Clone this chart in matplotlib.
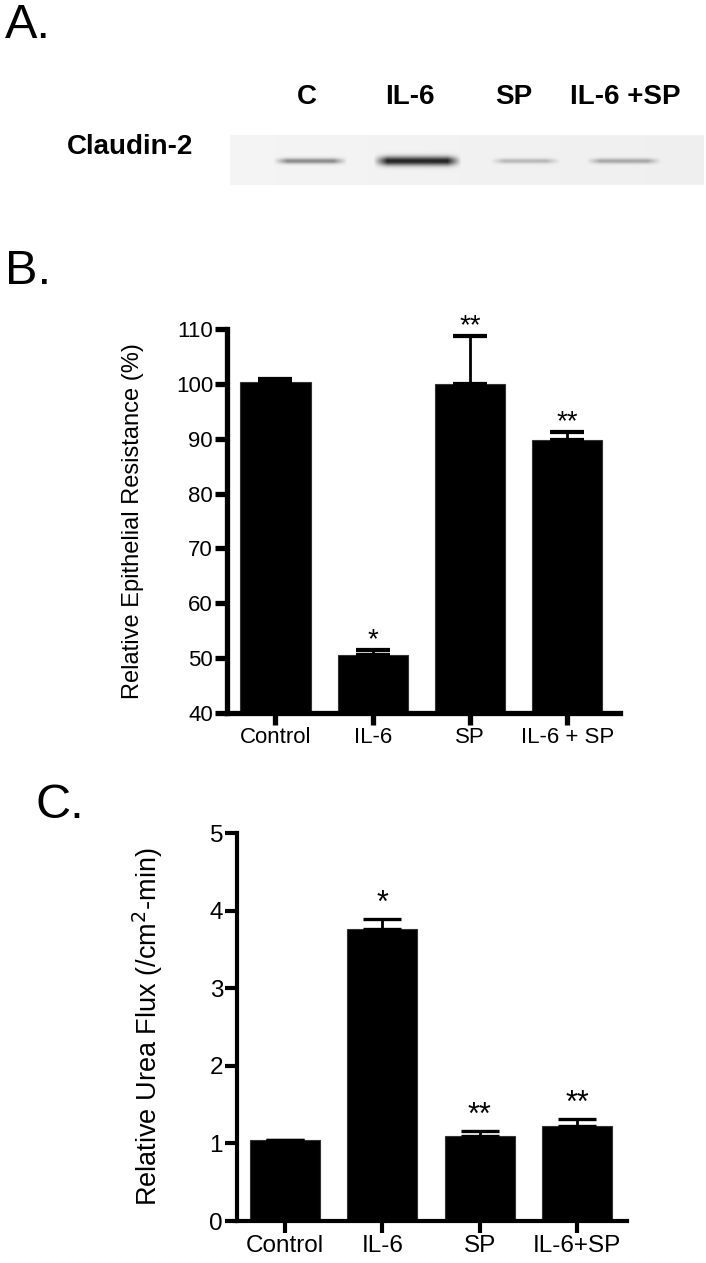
"""
Claudin-2 blot (A), epithelial resistance (B) and urea flux (C).
"""

import numpy as np
import matplotlib
matplotlib.use("Agg")
import matplotlib.pyplot as plt

# ============================== DATA ==============================
lane_labels = ["C", "IL-6", "SP", "IL-6 +SP"]
band_density = [0.40, 0.80, 0.22, 0.28]      # relative band darkness on the blot
band_thickness = [2.8, 4.5, 2.5, 2.6]        # px (gaussian width)

ter_labels = ["Control", "IL-6", "SP", "IL-6 + SP"]
ter_means = [100.3, 50.6, 100.0, 89.8]
ter_sem = [0.6, 0.9, 8.8, 1.5]
ter_stars = ["", "*", "**", "**"]

flux_labels = ["Control", "IL-6", "SP", "IL-6+SP"]
flux_means = [1.04, 3.76, 1.10, 1.22]
flux_sem = [0.01, 0.13, 0.06, 0.09]
flux_stars = ["", "*", "**", "**"]

# ============================== SETUP ==============================
plt.rcParams['font.family'] = ['Liberation Sans', 'DejaVu Sans']

W, H = 706, 1263
fig = plt.figure(figsize=(W / 100, H / 100), dpi=100)


def px_rect(x0, y0, x1, y1):
    """Pixel box (top-left origin) -> figure fraction rect."""
    return [x0 / W, 1 - y1 / H, (x1 - x0) / W, (y1 - y0) / H]


def fig_text(x, y, s, **kw):
    fig.text(x / W, 1 - y / H, s, **kw)


# panel letters
fig_text(5, 26, "A.", fontsize=35, va='center', ha='left')
fig_text(5, 271, "B.", fontsize=35, va='center', ha='left')
fig_text(35, 805, "C.", fontsize=35, va='center', ha='left')

# ============================== PANEL A ==============================
blot_x0, blot_x1, blot_y0, blot_y1 = 230, 704, 135, 185
ax_blot = fig.add_axes(px_rect(blot_x0, blot_y0, blot_x1, blot_y1))
bw, bh = blot_x1 - blot_x0, blot_y1 - blot_y0
lane_spans = [(273, 347), (373, 461), (490, 560), (586, 661)]
yy, xx = np.mgrid[0:bh, 0:bw]
img = np.full((bh, bw), 0.045)
img += 0.02 * (xx / bw)
for (a, b), dens, th in zip(lane_spans, band_density, band_thickness):
    a -= blot_x0
    b -= blot_x0
    row = np.exp(-((yy - 25.5) / th) ** 2)
    taper = np.clip(np.minimum(xx - a, b - xx) / 14.0, 0, 1)
    img += dens * row * taper
ax_blot.imshow(np.clip(img, 0, 1), cmap='gray_r', vmin=0, vmax=1,
               aspect='auto', interpolation='bilinear')
ax_blot.set_axis_off()

fig_text(67, 147, "Claudin-2", fontsize=20, fontweight='bold', va='center', ha='left')
for xc, lab in zip([307, 410, 514, 625], lane_labels):
    fig_text(xc, 97, lab, fontsize=20, fontweight='bold', va='center', ha='center')


# ============================== BAR PANELS ==============================
def bar_panel(rect, labels, means, sem, stars, ylim, yticks, xlim,
              lw, tick_fs, star_fs, star_off, cap):
    ax = fig.add_axes(rect)
    x = np.arange(len(labels))
    ax.bar(x, means, width=0.72, color='black', edgecolor='#333333',
           linewidth=0.8, zorder=2)
    ax.errorbar(x, means, yerr=[np.zeros(len(sem)), sem], fmt='none',
                ecolor='black', elinewidth=2.0, capsize=cap, capthick=lw * 0.8,
                zorder=3)
    for xi, m, e, s in zip(x, means, sem, stars):
        if s:
            ax.annotate(s, (xi, m + e), xytext=(0, star_off),
                        textcoords='offset points', ha='center', va='baseline',
                        fontsize=star_fs)
    ax.set_xlim(*xlim)
    ax.set_ylim(*ylim)
    ax.set_yticks(yticks)
    ax.set_xticks(x)
    ax.set_xticklabels(labels)
    for side in ['top', 'right']:
        ax.spines[side].set_visible(False)
    for side in ['left', 'bottom']:
        ax.spines[side].set_linewidth(lw)
    ax.tick_params(axis='both', direction='out', length=8.5, width=lw,
                   labelsize=tick_fs, pad=1.5)
    return ax


bar_panel(px_rect(227, 329, 620, 713), ter_labels, ter_means, ter_sem, ter_stars,
          (40, 110), np.arange(40, 111, 10), (-0.498, 3.54),
          lw=3.8, tick_fs=16, star_fs=20, star_off=2, cap=12.5)
fig_text(133, 521, "Relative Epithelial Resistance (%)", fontsize=17,
         rotation=90, va='center', ha='center')

bar_panel(px_rect(237, 833, 627, 1221), flux_labels, flux_means, flux_sem, flux_stars,
          (0, 5), np.arange(0, 6, 1), (-0.493, 3.514),
          lw=3.0, tick_fs=17.5, star_fs=22, star_off=5, cap=14)
fig_text(148, 1027, r"Relative Urea Flux (/cm$^2$-min)", fontsize=19.5,
         rotation=90, va='center', ha='center')

fig.savefig("out.png", dpi=100, facecolor='white')
